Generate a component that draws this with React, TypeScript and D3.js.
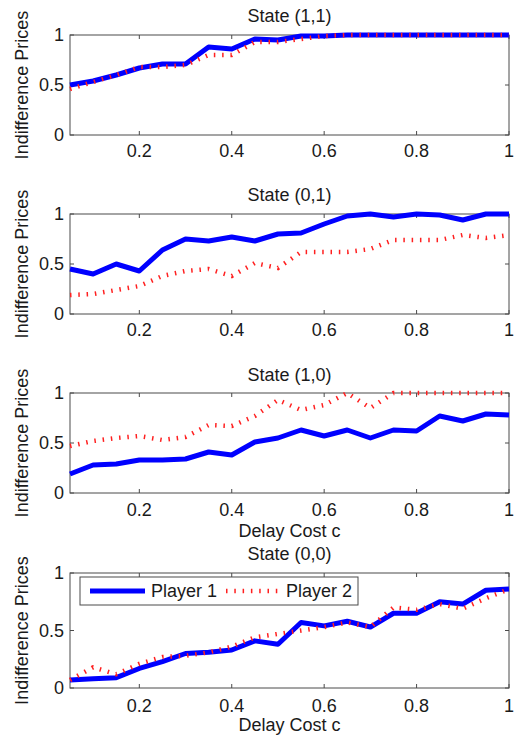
import {useEffect, useRef} from "react";
import * as d3 from "d3";

// delay cost grid, 0.05 .. 1.00
const delayCost = [0.05, 0.1, 0.15, 0.2, 0.25, 0.3, 0.35, 0.4, 0.45, 0.5, 0.55, 0.6, 0.65, 0.7, 0.75, 0.8, 0.85, 0.9, 0.95, 1.0];

const stateTitles = ["State (1,1)", "State (0,1)", "State (1,0)", "State (0,0)"];

const player1 = [
    [0.5, 0.54, 0.6, 0.67, 0.71, 0.71, 0.88, 0.86, 0.96, 0.95, 0.99, 0.99, 1, 1, 1, 1, 1, 1, 1, 1],
    [0.45, 0.4, 0.5, 0.43, 0.64, 0.75, 0.73, 0.77, 0.73, 0.8, 0.81, 0.9, 0.98, 1, 0.97, 1, 0.99, 0.94, 1, 1],
    [0.19, 0.28, 0.29, 0.33, 0.33, 0.34, 0.41, 0.38, 0.51, 0.55, 0.63, 0.57, 0.63, 0.55, 0.63, 0.62, 0.77, 0.72, 0.79, 0.78],
    [0.07, 0.08, 0.09, 0.17, 0.23, 0.3, 0.31, 0.33, 0.41, 0.38, 0.57, 0.54, 0.58, 0.53, 0.65, 0.65, 0.75, 0.73, 0.85, 0.86],
];

const player2 = [
    [0.46, 0.53, 0.6, 0.68, 0.68, 0.7, 0.8, 0.8, 0.93, 0.93, 0.96, 0.99, 1, 1, 1, 1, 1, 1, 1, 1],
    [0.19, 0.2, 0.24, 0.28, 0.38, 0.43, 0.45, 0.38, 0.51, 0.46, 0.62, 0.62, 0.62, 0.65, 0.74, 0.74, 0.74, 0.79, 0.76, 0.79],
    [0.47, 0.52, 0.55, 0.57, 0.53, 0.56, 0.68, 0.67, 0.77, 0.93, 0.83, 0.88, 1, 0.85, 1, 1, 1, 1, 1, 1],
    [0.07, 0.18, 0.12, 0.21, 0.27, 0.28, 0.31, 0.36, 0.44, 0.47, 0.5, 0.53, 0.57, 0.53, 0.7, 0.68, 0.73, 0.69, 0.78, 0.86],
];

const xTicks = [0.2, 0.4, 0.6, 0.8, 1];
const yTicks = [0, 0.5, 1];
const seriesNames = ["Player 1", "Player 2"];

// per-panel layout (the original is stitched from separate figures)
const panels = [
    {top: 35, bottom: 135, titleY: 22, tickDy: 22, xLabelY: null},
    {top: 214, bottom: 314, titleY: 201, tickDy: 22, xLabelY: null},
    {top: 393, bottom: 493, titleY: 381, tickDy: 23, xLabelY: 537},
    {top: 573, bottom: 688, titleY: 560, tickDy: 24, xLabelY: 731},
];

const left = 70;
const right = 509;
const font = "'Liberation Sans', Arial, Helvetica, sans-serif";
const fontSize = 18;
const textColor = "#1a1a1a";
const axisColor = "#4a4a4a";
const blue = "#0000ff";
const red = "#ff2020";

export default function App() {
    const ref = useRef<SVGSVGElement>(null);

    useEffect(() => {
        const svg = d3.select(ref.current);
        svg.selectAll("*").remove();

        const x = d3.scaleLinear().domain([0.05, 1]).range([left, right]);

        panels.forEach((p, i) => {
            const y = d3.scaleLinear().domain([0, 1]).range([p.bottom, p.top]);
            const g = svg.append("g");

            // frame
            g.append("rect")
                .attr("x", left)
                .attr("y", p.top)
                .attr("width", right - left)
                .attr("height", p.bottom - p.top)
                .attr("fill", "white")
                .attr("stroke", axisColor)
                .attr("stroke-width", 1);

            // inward ticks
            xTicks.forEach((t) => {
                g.append("line").attr("x1", x(t)).attr("x2", x(t))
                    .attr("y1", p.bottom).attr("y2", p.bottom - 4)
                    .attr("stroke", axisColor);
                g.append("line").attr("x1", x(t)).attr("x2", x(t))
                    .attr("y1", p.top).attr("y2", p.top + 4)
                    .attr("stroke", axisColor);
                g.append("text")
                    .attr("x", x(t))
                    .attr("y", p.bottom + p.tickDy)
                    .attr("text-anchor", "middle")
                    .attr("font-family", font)
                    .attr("font-size", fontSize)
                    .attr("fill", textColor)
                    .text(String(t));
            });
            yTicks.forEach((t) => {
                g.append("line").attr("x1", left).attr("x2", left + 4)
                    .attr("y1", y(t)).attr("y2", y(t))
                    .attr("stroke", axisColor);
                g.append("line").attr("x1", right).attr("x2", right - 4)
                    .attr("y1", y(t)).attr("y2", y(t))
                    .attr("stroke", axisColor);
                g.append("text")
                    .attr("x", left - 6)
                    .attr("y", y(t))
                    .attr("dy", "0.36em")
                    .attr("text-anchor", "end")
                    .attr("font-family", font)
                    .attr("font-size", fontSize)
                    .attr("fill", textColor)
                    .text(String(t));
            });

            const line = d3.line<number>()
                .x((_, j) => x(delayCost[j]))
                .y((d) => y(d));

            g.append("path")
                .datum(player1[i])
                .attr("d", line)
                .attr("fill", "none")
                .attr("stroke", blue)
                .attr("stroke-width", 5)
                .attr("stroke-linejoin", "round");

            g.append("path")
                .datum(player2[i])
                .attr("d", line)
                .attr("fill", "none")
                .attr("stroke", red)
                .attr("stroke-width", 4.5)
                .attr("stroke-dasharray", "1.5,6.8");

            // title
            g.append("text")
                .attr("x", (left + right) / 2)
                .attr("y", p.titleY)
                .attr("text-anchor", "middle")
                .attr("font-family", font)
                .attr("font-size", fontSize)
                .attr("fill", textColor)
                .text(stateTitles[i]);

            // y label
            g.append("text")
                .attr("transform", `translate(28, ${(p.top + p.bottom) / 2}) rotate(-90)`)
                .attr("text-anchor", "middle")
                .attr("font-family", font)
                .attr("font-size", fontSize)
                .attr("fill", textColor)
                .text("Indifference Prices");

            if(p.xLabelY) {
                g.append("text")
                    .attr("x", (left + right) / 2)
                    .attr("y", p.xLabelY)
                    .attr("text-anchor", "middle")
                    .attr("font-family", font)
                    .attr("font-size", fontSize)
                    .attr("fill", textColor)
                    .text("Delay Cost c");
            }

            // legend in the last panel
            if(i === panels.length - 1) {
                const lg = g.append("g");
                lg.append("rect")
                    .attr("x", 80).attr("y", 577)
                    .attr("width", 278).attr("height", 28)
                    .attr("fill", "white")
                    .attr("stroke", axisColor);
                const ly = 591;
                lg.append("line").attr("x1", 90).attr("x2", 145)
                    .attr("y1", ly).attr("y2", ly)
                    .attr("stroke", blue).attr("stroke-width", 5);
                lg.append("text").attr("x", 151).attr("y", ly).attr("dy", "0.36em")
                    .attr("font-family", font).attr("font-size", fontSize).attr("fill", textColor)
                    .text(seriesNames[0]);
                lg.append("line").attr("x1", 226).attr("x2", 278)
                    .attr("y1", ly).attr("y2", ly)
                    .attr("stroke", red).attr("stroke-width", 4.5)
                    .attr("stroke-dasharray", "1.5,6.8");
                lg.append("text").attr("x", 286).attr("y", ly).attr("dy", "0.36em")
                    .attr("font-family", font).attr("font-size", fontSize).attr("fill", textColor)
                    .text(seriesNames[1]);
            }
        });
    }, []);

    return (
        <svg
            ref={ref}
            width={518}
            height={736}
            style={{position: "absolute", left: 0, top: 0, background: "white"}}
        />
    );
}
